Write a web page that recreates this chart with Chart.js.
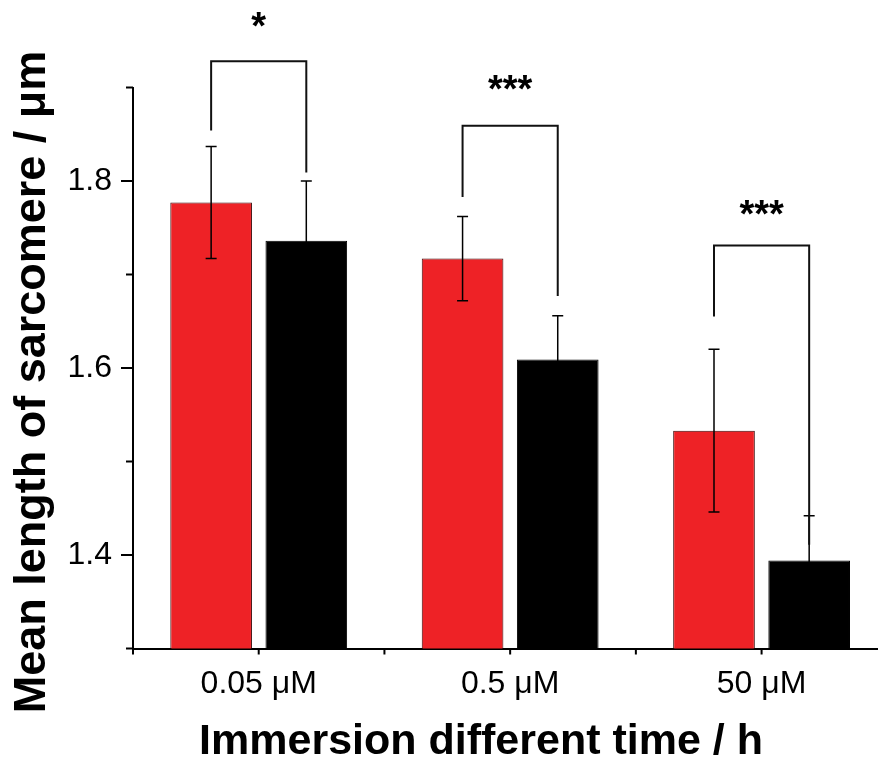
<!DOCTYPE html>
<html><head><meta charset="utf-8">
<script src="https://cdn.jsdelivr.net/npm/chart.js@4/dist/chart.umd.min.js"></script>
<style>html,body{margin:0;padding:0;background:#fff}#wrap{width:878px;height:763px;position:relative}</style>
</head><body><div id="wrap"><canvas id="c" width="878" height="763"></canvas></div>
<script>
// ---- data ----
const categories = ['0.05 \u03BCM', '0.5 \u03BCM', '50 \u03BCM'];
const redValues = [1.777, 1.717, 1.533];
const redErrors = [0.060, 0.045, 0.087];
const blackValues = [1.736, 1.609, 1.394];
const blackErrors = [0.064, 0.047, 0.048];
const yTickLabels = ['1.4', '1.6', '1.8'];
const bracketTop = [1.928, 1.859, 1.731];
const bracketLeftEnd = [1.854, 1.783, 1.655];
const bracketRightEnd = [1.809, 1.677, 1.411];
const bracketLabels = ['*', '***', '***'];
const starCenter = [1.975, 1.908, 1.774];
const xTitle = 'Immersion different time / h';
const yTitle = 'Mean length of sarcomere / \u03BCm';

const FONT = '"Liberation Sans", Arial, Helvetica, sans-serif';
const INK = '#000';

const errorBarPlugin = {
  id: 'errorBars',
  afterDatasetsDraw(chart) {
    const ctx = chart.ctx, y = chart.scales.y;
    const errs = [redErrors, blackErrors];
    ctx.save();
    ctx.strokeStyle = '#000';
    ctx.lineWidth = 1.5;
    chart.data.datasets.forEach((ds, di) => {
      const meta = chart.getDatasetMeta(di);
      meta.data.forEach((bar, i) => {
        const v = ds.data[i].y, e = errs[di][i];
        const yt = y.getPixelForValue(v + e), yb = y.getPixelForValue(v - e);
        const x = bar.x, cap = 5.5;
        ctx.beginPath();
        ctx.moveTo(x, yt); ctx.lineTo(x, yb);
        ctx.moveTo(x - cap, yt); ctx.lineTo(x + cap, yt);
        ctx.moveTo(x - cap, yb); ctx.lineTo(x + cap, yb);
        ctx.stroke();
      });
    });
    ctx.restore();
  }
};

const bracketPlugin = {
  id: 'brackets',
  afterDraw(chart) {
    const ctx = chart.ctx, y = chart.scales.y;
    const m0 = chart.getDatasetMeta(0), m1 = chart.getDatasetMeta(1);
    ctx.save();
    ctx.strokeStyle = '#111';
    ctx.lineWidth = 2;
    ctx.fillStyle = INK;
    ctx.font = 'bold 38px ' + FONT;
    ctx.textAlign = 'center';
    ctx.textBaseline = 'alphabetic';
    bracketTop.forEach((t, i) => {
      const xl = m0.data[i].x, xr = m1.data[i].x;
      const yt = y.getPixelForValue(t);
      ctx.beginPath();
      ctx.moveTo(xl, y.getPixelForValue(bracketLeftEnd[i]));
      ctx.lineTo(xl, yt);
      ctx.lineTo(xr, yt);
      ctx.lineTo(xr, y.getPixelForValue(bracketRightEnd[i]));
      ctx.stroke();
      ctx.fillText(bracketLabels[i], (xl + xr) / 2, y.getPixelForValue(starCenter[i]) + 21.5);
    });
    ctx.restore();
  }
};

const axisDecorPlugin = {
  id: 'axisDecor',
  afterDraw(chart) {
    const ctx = chart.ctx, xs = chart.scales.x, ys = chart.scales.y;
    const area = chart.chartArea;
    ctx.save();
    ctx.strokeStyle = INK;
    ctx.lineWidth = 2;
    ys.ticks.forEach(t => {
      const py = ys.getPixelForValue(t.value);
      const len = yTickLabels.includes(t.value.toFixed(1)) ? 12 : 7;
      ctx.beginPath(); ctx.moveTo(area.left - len, py); ctx.lineTo(area.left, py); ctx.stroke();
    });
    xs.ticks.forEach(t => {
      const px = xs.getPixelForValue(t.value);
      ctx.beginPath(); ctx.moveTo(px, area.bottom); ctx.lineTo(px, area.bottom + 6); ctx.stroke();
    });
    ctx.fillStyle = INK;
    ctx.textAlign = 'center';
    ctx.textBaseline = 'alphabetic';
    ctx.font = 'bold 43px ' + FONT;
    ctx.fillText(xTitle, 481, 754);
    ctx.translate(45, 382);
    ctx.rotate(-Math.PI / 2);
    ctx.font = 'bold 45px ' + FONT;
    ctx.fillText(yTitle, 0, 0);
    ctx.restore();
  }
};

const halfSteps = [];
categories.forEach((c, i) => { halfSteps.push(i - 0.5, i); });

new Chart(document.getElementById('c'), {
  type: 'bar',
  data: {
    datasets: [
      {
        label: 'red',
        data: redValues.map((v, i) => ({ x: i, y: v })),
        backgroundColor: '#EE2226',
        borderColor: '#3a0808',
        borderWidth: 1,
        borderSkipped: false,
        categoryPercentage: 1.514,
        barPercentage: 0.858
      },
      {
        label: 'black',
        data: blackValues.map((v, i) => ({ x: i, y: v })),
        backgroundColor: '#000',
        borderColor: '#000',
        borderWidth: 1,
        borderSkipped: false,
        categoryPercentage: 1.514,
        barPercentage: 0.858
      }
    ]
  },
  options: {
    responsive: false,
    animation: false,
    devicePixelRatio: 1,
    layout: { padding: { top: 87.5, left: 0, right: 0, bottom: 0 } },
    plugins: { legend: { display: false }, tooltip: { enabled: false }, title: { display: false } },
    scales: {
      x: {
        type: 'linear',
        offset: false,
        min: -0.5,
        max: 2.463,
        afterBuildTicks: s => { s.ticks = halfSteps.map(v => ({ value: v })); },
        afterFit: s => { s.height = 114.5; s.paddingLeft = 0; s.paddingRight = 0; },
        grid: { display: false, drawTicks: false },
        border: { display: true, color: INK, width: 2 },
        ticks: {
          padding: 16,
          color: INK,
          maxRotation: 0,
          autoSkip: false,
          font: { family: FONT, size: 32 },
          callback: v => Number.isInteger(v) ? categories[v] : ''
        }
      },
      y: {
        min: 1.3,
        max: 1.9,
        afterBuildTicks: s => {
          const t = [];
          for (let k = 13; k <= 19; k++) t.push({ value: k / 10 });
          s.ticks = t;
        },
        afterFit: s => { s.width = 133; s.paddingTop = 0; s.paddingBottom = 0; },
        grid: { display: false, drawTicks: false },
        border: { display: true, color: INK, width: 2 },
        ticks: {
          padding: 21,
          color: INK,
          autoSkip: false,
          font: { family: FONT, size: 32 },
          callback: v => { const s = Number(v).toFixed(1); return yTickLabels.includes(s) ? s : ''; }
        }
      }
    }
  },
  plugins: [errorBarPlugin, bracketPlugin, axisDecorPlugin]
});
</script>
</body></html>
